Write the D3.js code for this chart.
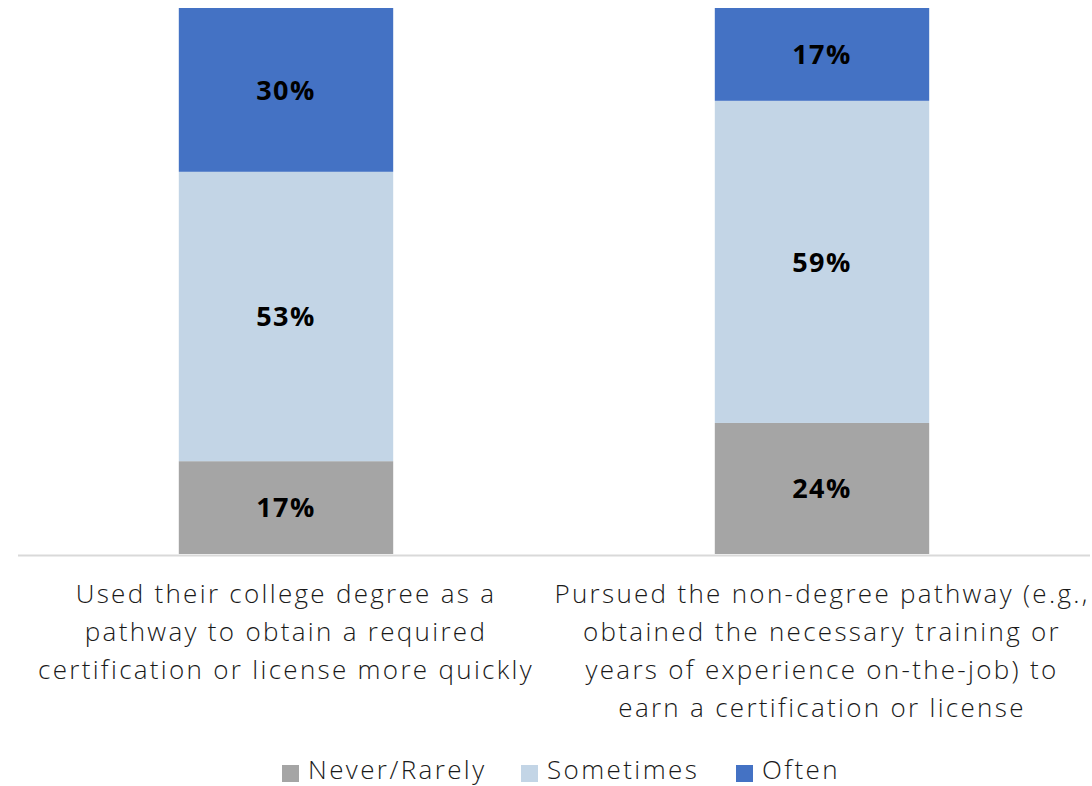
<!DOCTYPE html>
<html>
<head>
<meta charset="utf-8">
<script src="https://cdn.jsdelivr.net/npm/d3@7"></script>
<style>
  body { margin: 0; background: #fff; }
  svg { display: block; font-family: "Open Sans", Lato, sans-serif; }
</style>
</head>
<body>
<div id="chart"></div>
<script>
'use strict'

const categories = [
  ['Used their college degree as a', 'pathway to obtain a required', 'certification or license more quickly'],
  ['Pursued the non-degree pathway (e.g.,', 'obtained the necessary training or', 'years of experience on-the-job) to', 'earn a certification or license']
];
const seriesNames = ['Never/Rarely', 'Sometimes', 'Often'];
const neverRarely = [17, 24];
const sometimes = [53, 59];
const often = [30, 17];
const colors = ['#a5a5a5', '#c3d5e6', '#4472c4'];

let width = 1092, height = 786;
let margin = {top: 8, right: 2, bottom: 232, left: 18};
let innerW = width - margin.left - margin.right,
    innerH = height - margin.top - margin.bottom;

let svg = d3.select('#chart').append('svg')
  .attr('width', width)
  .attr('height', height);

let g = svg.append('g')
  .attr('transform', 'translate(' + margin.left + ',' + margin.top + ')');

let x = d3.scaleBand().domain(d3.range(categories.length)).range([0, innerW]).paddingInner(0.6).paddingOuter(0.3);
let y = d3.scaleLinear().domain([0, 100]).range([innerH, 0]);

let rows = categories.map((c, i) => ({i: i, 0: neverRarely[i], 1: sometimes[i], 2: often[i]}));
let stack = d3.stack().keys([0, 1, 2])(rows);

let layers = g.selectAll('.layer').data(stack).enter().append('g')
  .attr('class', 'layer')
  .attr('fill', (d, k) => colors[k]);

layers.selectAll('rect').data(d => d).enter().append('rect')
  .attr('x', d => x(d.data.i))
  .attr('y', d => y(d[1]))
  .attr('width', x.bandwidth())
  .attr('height', d => y(d[0]) - y(d[1]));

layers.selectAll('text').data(d => d).enter().append('text')
  .attr('x', d => x(d.data.i) + x.bandwidth() / 2)
  .attr('y', d => (y(d[0]) + y(d[1])) / 2)
  .attr('dy', '0.36em')
  .attr('text-anchor', 'middle')
  .attr('fill', '#000')
  .attr('font-size', 27)
  .attr('font-weight', 700)
  .attr('letter-spacing', 1.5)
  .text(d => (d[1] - d[0]) + '%');

// baseline
g.append('line')
  .attr('x1', 0).attr('x2', innerW)
  .attr('y1', y(0) + 1.5).attr('y2', y(0) + 1.5)
  .attr('stroke', '#d9d9d9')
  .attr('stroke-width', 2);

// category labels
let labels = g.selectAll('.cat').data(categories).enter().append('text')
  .attr('class', 'cat')
  .attr('text-anchor', 'middle')
  .attr('font-size', 26)
  .attr('font-weight', 300)
  .attr('letter-spacing', 2.3)
  .attr('fill', '#1a1a1a')
  .attr('transform', (d, i) => 'translate(' + (x(i) + x.bandwidth() / 2) + ',' + (y(0) + 49) + ')');

labels.selectAll('tspan').data(d => d).enter().append('tspan')
  .attr('x', 0)
  .attr('y', (d, j) => j * 38)
  .text(d => d);

// legend
let legendX = [282, 521, 736];
let legend = svg.selectAll('.leg').data(seriesNames).enter().append('g')
  .attr('class', 'leg')
  .attr('transform', (d, k) => 'translate(' + legendX[k] + ',765)');

legend.append('rect')
  .attr('width', 17).attr('height', 17)
  .attr('fill', (d, k) => colors[k]);

legend.append('text')
  .attr('x', 26).attr('y', 14)
  .attr('font-size', 26)
  .attr('font-weight', 300)
  .attr('letter-spacing', 2.4)
  .attr('fill', '#1a1a1a')
  .text(d => d);
</script>
</body>
</html>
